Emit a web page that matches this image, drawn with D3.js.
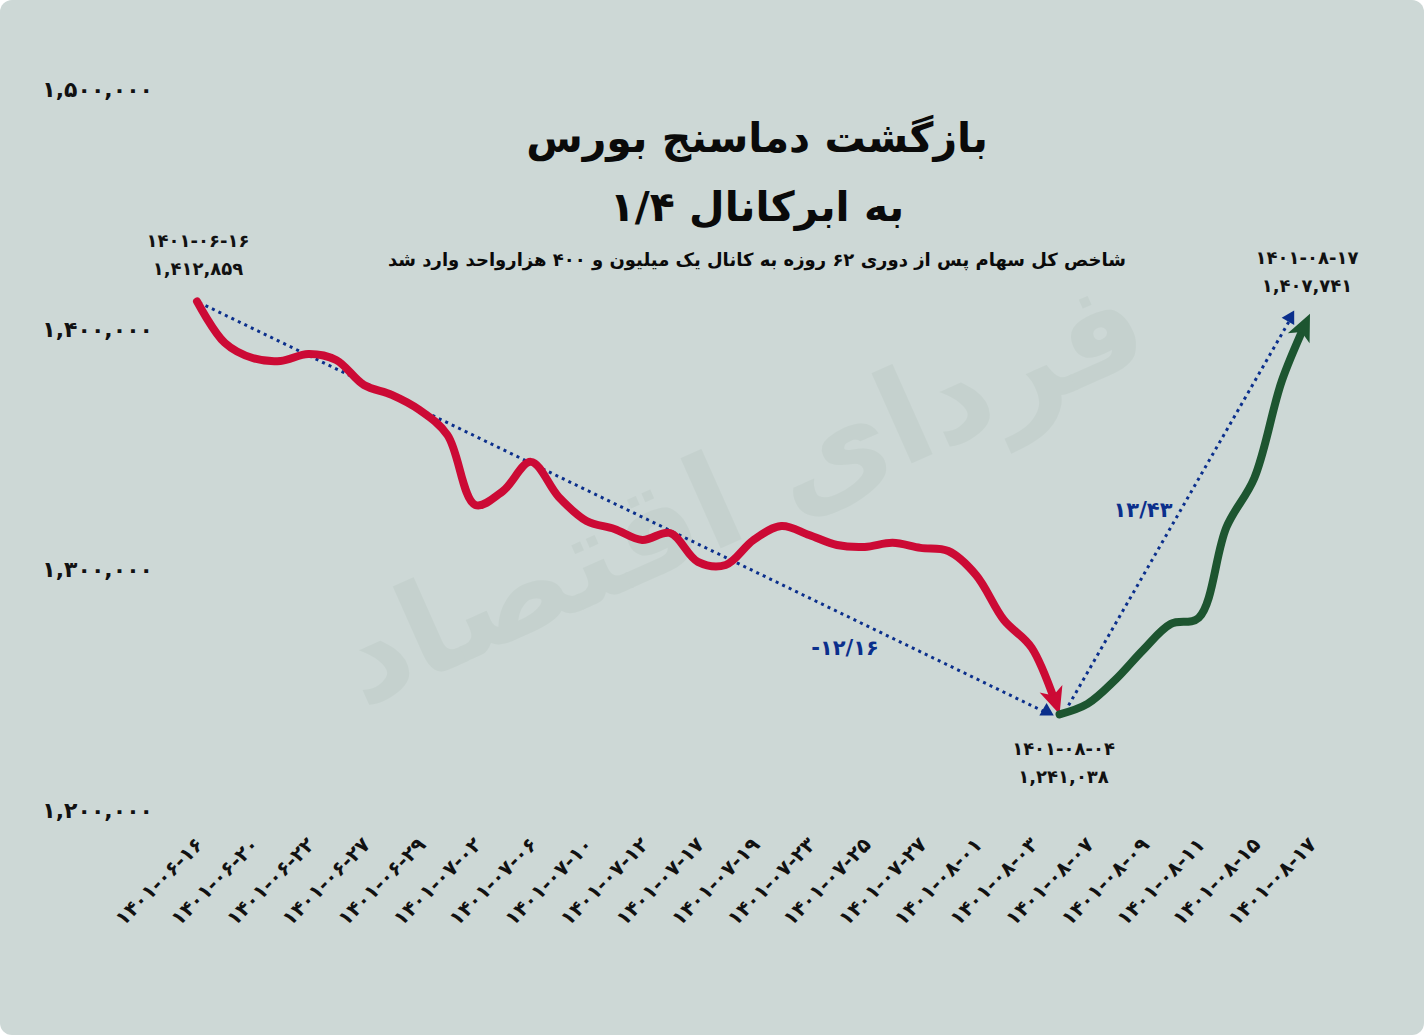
<!DOCTYPE html>
<html><head><meta charset="utf-8">
<script src="https://cdn.jsdelivr.net/npm/d3@7"></script>
<style>
html,body{margin:0;padding:0;background:#ffffff;}
svg{display:block;}
text{font-family:"DejaVu Sans",sans-serif;}
</style></head>
<body>
<script>
// ---- data ----
const dates = [
 "1401-06-16","1401-06-19","1401-06-20","1401-06-21","1401-06-22","1401-06-23","1401-06-27","1401-06-28",
 "1401-06-29","1401-06-30","1401-07-02","1401-07-04","1401-07-06","1401-07-09","1401-07-10","1401-07-11",
 "1401-07-12","1401-07-16","1401-07-17","1401-07-18","1401-07-19","1401-07-20","1401-07-23","1401-07-24",
 "1401-07-25","1401-07-26","1401-07-27","1401-07-30","1401-08-01","1401-08-02","1401-08-03","1401-08-04",
 "1401-08-07","1401-08-08","1401-08-09","1401-08-10","1401-08-11","1401-08-14","1401-08-15","1401-08-16",
 "1401-08-17"];
const indexValues = [
 1412859,1395600,1389300,1388100,1391000,1388500,1378100,1374000,
 1367700,1357300,1328200,1334000,1346100,1331500,1321500,1318200,
 1313600,1316500,1304500,1303200,1313600,1319400,1315700,1311500,
 1310700,1312400,1310300,1309000,1299000,1280300,1268700,1241038,
 1245400,1255400,1267800,1278700,1281200,1319000,1339400,1380200,
 1407741];
const tickDates = dates.filter((d,i)=> i%2===0);
const yTicks = [1200000,1300000,1400000,1500000];
const troughDate = "1401-08-04";
const title1 = "بازگشت دماسنج بورس";
const title2 = "به ابرکانال ۱/۴";
const subtitle = "شاخص کل سهام پس از دوری ۶۲ روزه به کانال یک میلیون و ۴۰۰ هزارواحد وارد شد";
const declineLabel = "-12/16";
const riseLabel = "13/43";
const watermark = "فردای اقتصاد";

// ---- helpers ----
const fa = s => String(s).replace(/[0-9]/g, d => "۰۱۲۳۴۵۶۷۸۹"[+d]);
const fmt = v => fa(d3.format(",")(v));

const W = 1424, H = 1035;
const bg = "#cdd8d6", red = "#cc0a35", green = "#1d5530", blue = "#0b2f8c";

const svg = d3.select("body").append("svg").attr("width", W).attr("height", H);
svg.append("rect").attr("x",0).attr("y",0).attr("width",W).attr("height",H).attr("rx",12).attr("fill",bg);

const defs = svg.append("defs");
function arrow(id, color){
  defs.append("marker").attr("id",id).attr("viewBox","-30 -15 34 30")
    .attr("refX",0).attr("refY",0).attr("markerWidth",34).attr("markerHeight",30)
    .attr("markerUnits","userSpaceOnUse").attr("orient","auto")
    .append("path").attr("d","M0,0 L-27,-12 L-20,0 L-27,12 Z").attr("fill",color);
}
arrow("arRed", red); arrow("arGreen", green);

// watermark
svg.append("text").attr("transform","translate(740,490) rotate(-24)")
  .attr("text-anchor","middle").attr("dy","0.35em")
  .attr("font-size",130).attr("font-weight","bold")
  .attr("fill","#bccac5").attr("opacity",0.45).text(watermark);

const x = d3.scalePoint().domain(dates).range([197, 1310]);
const y = d3.scaleLinear().domain([1200000,1500000]).range([813, 92]);

// y axis
const yAxis = svg.append("g").attr("transform","translate(153,-3)")
  .call(d3.axisLeft(y).tickValues(yTicks).tickSize(0).tickPadding(0).tickFormat(fmt));
yAxis.select(".domain").remove();
yAxis.selectAll("text").attr("font-size",22).attr("font-weight","bold").attr("fill","#111")
  .style("font-family","DejaVu Sans");

// x axis
const xAxis = svg.append("g").attr("transform","translate(-3,836)")
  .call(d3.axisBottom(x).tickValues(tickDates).tickSize(0).tickPadding(0).tickFormat(fa));
xAxis.select(".domain").remove();
xAxis.selectAll("text").attr("font-size",20).attr("font-weight","bold").attr("fill","#111")
  .style("font-family","DejaVu Sans")
  .attr("text-anchor","end").attr("dy","0.7em").attr("transform","rotate(-45)");

// titles
svg.append("text").attr("x",757).attr("y",152).attr("text-anchor","middle")
  .attr("font-size",41).attr("font-weight","bold").attr("fill","#0a0a0a").text(title1);
svg.append("text").attr("x",757).attr("y",221).attr("text-anchor","middle")
  .attr("font-size",41).attr("font-weight","bold").attr("fill","#0a0a0a").text(title2);
svg.append("text").attr("x",757).attr("y",266).attr("text-anchor","middle")
  .attr("font-size",18).attr("font-weight","bold").attr("fill","#0a0a0a").text(subtitle);

const pts = dates.map((d,i)=>({d, v:indexValues[i]}));
const iMin = dates.indexOf(troughDate);
const first = pts[0], last = pts[pts.length-1], trough = pts[iMin];

// dotted trend lines
function dotted(x1,y1,x2,y2){
  svg.append("line").attr("x1",x1).attr("y1",y1).attr("x2",x2).attr("y2",y2)
    .attr("stroke",blue).attr("stroke-width",3).attr("stroke-dasharray","3,4.2");
}
dotted(x(first.d)+2, y(first.v)+1, x(trough.d)-16, y(trough.v)-3);
dotted(x(trough.d)+9, y(trough.v)-9, x(last.d)-20, y(last.v)+6);
svg.append("path").attr("d", d3.symbol(d3.symbolTriangle, 90)())
  .attr("transform",`translate(${x(trough.d)-13},${y(trough.v)-3})`).attr("fill",blue);
svg.append("path").attr("d", d3.symbol(d3.symbolTriangle, 90)())
  .attr("transform",`translate(${x(last.d)-20},${y(last.v)+4}) rotate(30)`).attr("fill",blue);

// lines
const line = d3.line().x(p=>x(p.d)).y(p=>y(p.v)).curve(d3.curveCatmullRom.alpha(0.5));
function drawSeg(data, color, marker){
  const p = svg.append("path").attr("d", line(data)).attr("fill","none")
    .attr("stroke",color).attr("stroke-width",8).attr("stroke-linecap","round").attr("stroke-linejoin","round");
  const L = p.node().getTotalLength();
  p.attr("stroke-dasharray", `${L-16} ${L+20}`).attr("marker-end", `url(#${marker})`);
}
drawSeg(pts.slice(0, iMin+1), red, "arRed");
drawSeg(pts.slice(iMin), green, "arGreen");

// annotations
function ann(cx, cy, t1, t2){
  svg.append("text").attr("x",cx).attr("y",cy).attr("text-anchor","middle")
    .attr("font-size",18).attr("font-weight","bold").attr("fill","#111").text(t1);
  svg.append("text").attr("x",cx).attr("y",cy+28).attr("text-anchor","middle")
    .attr("font-size",18).attr("font-weight","bold").attr("fill","#111").text(t2);
}
ann(x(first.d)+1, y(first.v)-54, fa(first.d), fmt(first.v));
ann(x(trough.d)+4, y(trough.v)+41, fa(trough.d), fmt(trough.v));
ann(x(last.d)-3, y(last.v)-50, fa(last.d), fmt(last.v));

svg.append("text").attr("x",845).attr("y",655).attr("text-anchor","middle")
  .attr("font-size",21).attr("font-weight","bold").attr("fill",blue).text(fa(declineLabel));
svg.append("text").attr("x",1143).attr("y",517).attr("text-anchor","middle")
  .attr("font-size",21).attr("font-weight","bold").attr("fill",blue).text(fa(riseLabel));
</script>
</body></html>
